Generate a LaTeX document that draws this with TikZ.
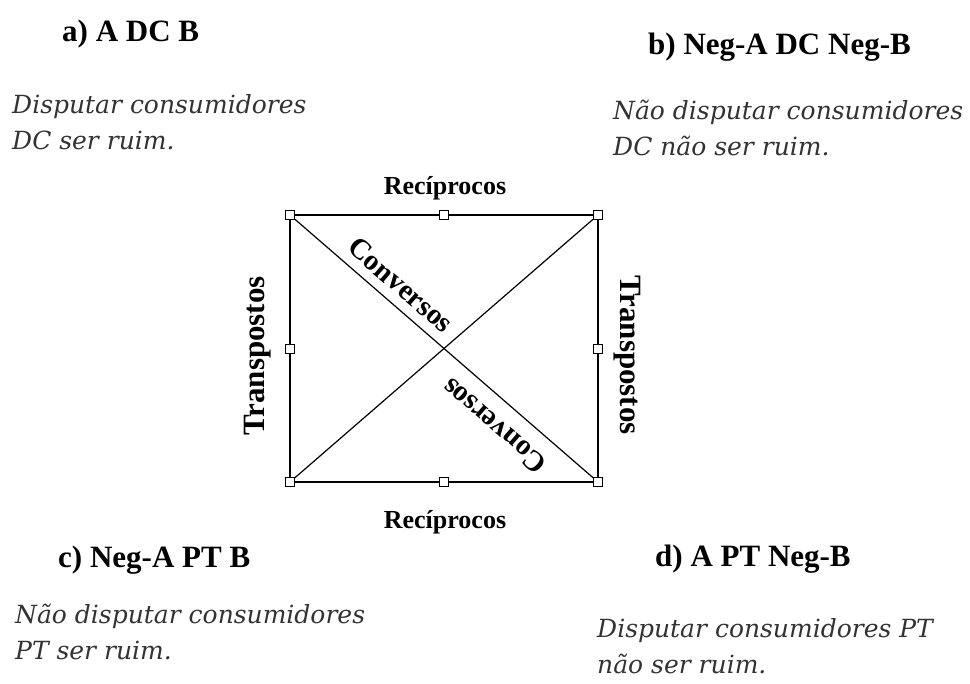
\documentclass[tikz,border=0pt]{standalone}
\usepackage{fontspec}
\setmainfont{Liberation Serif}
\newfontfamily\notefont{DejaVu Serif}
\begin{document}
\begin{tikzpicture}[x=1pt,y=-1pt,
    corner/.style={draw,fill=white,rectangle,minimum size=9pt,inner sep=0pt,line width=0.8pt},
    side/.style={line width=1.2pt},
    relation/.style={font=\fontsize{26}{30}\selectfont\bfseries,inner sep=0pt},
    heading/.style={font=\fontsize{31}{35}\selectfont\bfseries,anchor=base west,inner sep=0pt},
    gloss/.style={font=\notefont\itshape\fontsize{25}{36}\selectfont,anchor=north west,align=left,text=black!80,inner sep=0pt}]
    \useasboundingbox[fill=white] (0,0) rectangle (970,684);
    % Quadrado
    \node[corner] (tl) at (290,215) {};
    \node[corner] (tm) at (444,215) {};
    \node[corner] (tr) at (598,215) {};
    \node[corner] (ml) at (290,349) {};
    \node[corner] (mr) at (598,349) {};
    \node[corner] (bl) at (290,482) {};
    \node[corner] (bm) at (444,482) {};
    \node[corner] (br) at (598,482) {};
    % Linhas
    \draw[side] (tl) -- (tm) -- (tr);
    \draw[side] (bl) -- (bm) -- (br);
    \draw[side] (tl) -- (ml) -- (bl);
    \draw[side] (tr) -- (mr) -- (br);
    \draw[side] (tl) -- (br); % diagonal
    \draw[side] (tr) -- (bl); % diagonal
    % Relacoes
    \node[relation] (rtop) at (445,188) {Recíprocos};
    \node[relation] (rbot) at (445,522) {Recíprocos};
    \node[relation,font=\fontsize{31}{35}\selectfont\bfseries,rotate=90] (tleft) at (258,356) {Transpostos};
    \node[relation,font=\fontsize{31}{35}\selectfont\bfseries,rotate=-90] (tright) at (627,355) {Transpostos};
    \node[relation,font=\fontsize{29}{33}\selectfont\bfseries,rotate=-40.9] (cup) at (401,285) {Conversos};
    \node[relation,font=\fontsize{29}{33}\selectfont\bfseries,rotate=139.1] (cdown) at (494,426) {Conversos};
    % Proposicoes
    \node[heading] (ha) at (62,42) {a) A DC B};
    \node[heading] (hb) at (648,55) {b) Neg-A DC Neg-B};
    \node[heading] (hc) at (58,567) {c) Neg-A PT B};
    \node[heading] (hd) at (655,566) {d) A PT Neg-B};
    \node[gloss] (ga) at (12,94) {Disputar consumidores\\DC ser ruim.};
    \node[gloss] (gb) at (613,100) {Não disputar consumidores\\DC não ser ruim.};
    \node[gloss] (gc) at (15,604) {Não disputar consumidores\\PT ser ruim.};
    \node[gloss] (gd) at (597,618) {Disputar consumidores PT\\não ser ruim.};
\end{tikzpicture}
\end{document}
